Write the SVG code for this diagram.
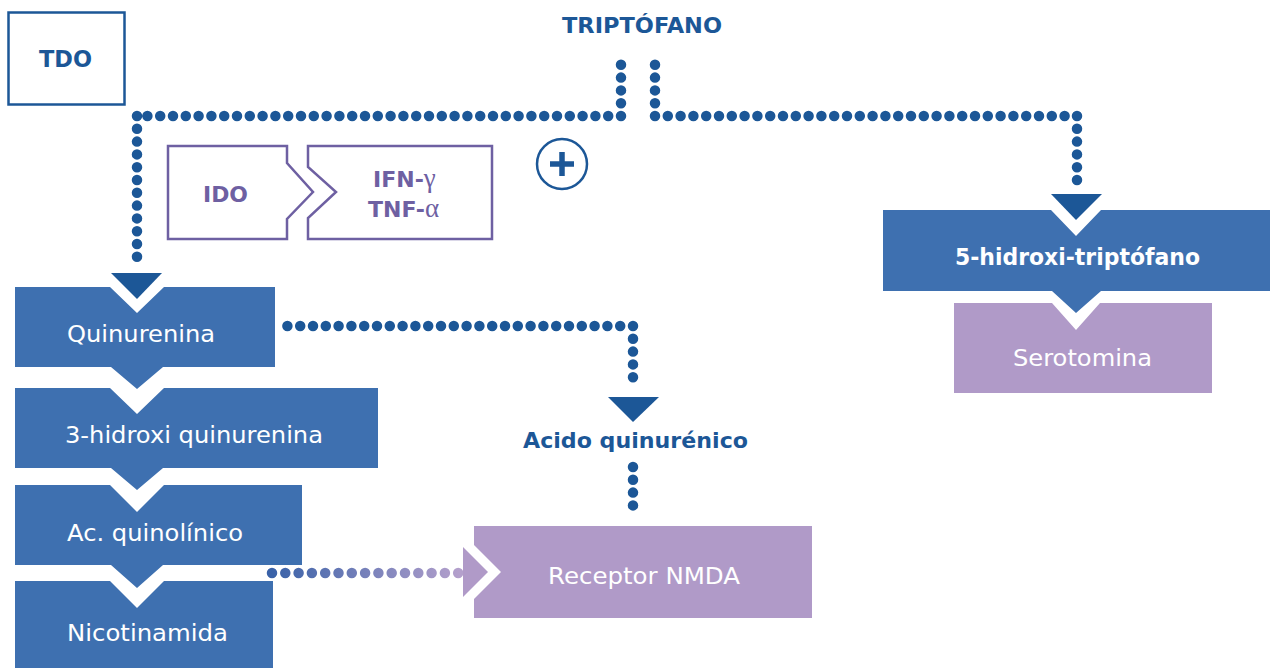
<svg xmlns="http://www.w3.org/2000/svg" width="1270" height="668" viewBox="0 0 1270 668">
  <style>
    .box { fill: #3e70b0; }
    .pbox { fill: #b09ac8; }
    .arrow { fill: #1c5797; }
    .dots { fill: none; stroke: #1c5797; stroke-width: 10.5; stroke-linecap: round; stroke-dasharray: 0 12.8; }
    .lbl { font-family: "DejaVu Sans", "Liberation Sans", sans-serif; font-size: 23px; fill: #ffffff; }
    .blbl { font-family: "DejaVu Sans", "Liberation Sans", sans-serif; font-size: 23px; font-weight: bold; fill: #ffffff; }
    .dlbl { font-family: "DejaVu Sans", "Liberation Sans", sans-serif; font-size: 22px; font-weight: bold; fill: #1c5797; }
    .plbl { font-family: "DejaVu Sans", "Liberation Sans", sans-serif; font-size: 22px; font-weight: bold; fill: #6e60a2; }
    .greek { font-family: "Liberation Serif", serif; font-weight: normal; font-size: 27px; }
    .pout { fill: #ffffff; stroke: #6e60a2; stroke-width: 2.5; stroke-linejoin: miter; }
  </style>
  <defs>
    <linearGradient id="gdots" gradientUnits="userSpaceOnUse" x1="272" y1="0" x2="460" y2="0">
      <stop offset="0" stop-color="#3a62a8"/>
      <stop offset="1" stop-color="#b4a0cc"/>
    </linearGradient>
  </defs>

  <g id="connectors">
    <path class="dots" d="M621 116 V53 M621 116 H137 M137 116 V266"/>
    <path class="dots" d="M655 116 V53 M655 116 H1077 M1077 116 V187"/>
    <path class="dots" d="M633 326 H285 M633 326 V386"/>
    <path class="dots" d="M633 467 V513"/>
    <path class="dots" style="stroke:url(#gdots); stroke-dasharray: 0 13.3" d="M272 573 H460"/>
    <polygon class="arrow" points="111,273 162,273 137,299"/>
    <polygon class="arrow" points="1051,194 1102,194 1076,220"/>
    <polygon class="arrow" points="608,397 659,397 633,422"/>
    <polygon points="463,547 488,572 463,597" fill="#b09ac8"/>
  </g>

  <g id="tdo">
    <rect x="8.5" y="12.5" width="116" height="92" fill="#ffffff" stroke="#1c5797" stroke-width="2.5"/>
    <text class="dlbl" x="39" y="67" textLength="53" lengthAdjust="spacingAndGlyphs" style="font-size:23px">TDO</text>
  </g>

  <g id="triptofano">
    <text class="dlbl" x="562" y="33" textLength="160" lengthAdjust="spacingAndGlyphs">TRIPTÓFANO</text>
  </g>

  <g id="plus">
    <circle cx="562" cy="164" r="25" fill="#ffffff" stroke="#1c5797" stroke-width="2.5"/>
    <path d="M550 164 H574 M562 152 V176" stroke="#1c5797" stroke-width="5.5" fill="none"/>
  </g>

  <g id="ido">
    <path class="pout" d="M168 146 H287 V163 L313 192 L287 219 V239 H168 Z"/>
    <text class="plbl" x="203" y="202" textLength="45" lengthAdjust="spacingAndGlyphs">IDO</text>
  </g>

  <g id="ifn-tnf">
    <path class="pout" d="M308 146 H492 V239 H308 V218 L336 192 L308 167 Z"/>
    <text class="plbl" x="373" y="187">IFN-<tspan class="greek">γ</tspan></text>
    <text class="plbl" x="368" y="217">TNF-<tspan class="greek">α</tspan></text>
  </g>

  <g id="quinurenina">
    <path class="box" d="M15 287 H110 L137 313 L164 287 H275 V367 H163 L137 389 L111 367 H15 Z"/>
    <text class="lbl" x="67" y="342" textLength="148" lengthAdjust="spacingAndGlyphs">Quinurenina</text>
  </g>

  <g id="hidroxi-quinurenina">
    <path class="box" d="M15 388 H110 L137 414 L164 388 H378 V468 H163 L137 490 L111 468 H15 Z"/>
    <text class="lbl" x="65" y="443" textLength="258" lengthAdjust="spacingAndGlyphs">3-hidroxi quinurenina</text>
  </g>

  <g id="ac-quinolinico">
    <path class="box" d="M15 485 H110 L137 512 L164 485 H302 V565 H163 L137 588 L111 565 H15 Z"/>
    <text class="lbl" x="67" y="541" textLength="176" lengthAdjust="spacingAndGlyphs">Ac. quinolínico</text>
  </g>

  <g id="nicotinamida">
    <path class="box" d="M15 581 H110 L137 608 L164 581 H273 V668 H15 Z"/>
    <text class="lbl" x="67" y="641" textLength="161" lengthAdjust="spacingAndGlyphs">Nicotinamida</text>
  </g>

  <g id="acido-quinurenico">
    <text class="dlbl" x="523" y="448" textLength="225" lengthAdjust="spacingAndGlyphs">Acido quinurénico</text>
  </g>

  <g id="receptor-nmda">
    <path class="pbox" d="M474 526 H812 V618 H474 V599 L501 572 L474 545 Z"/>
    <text class="lbl" x="548" y="584" textLength="192" lengthAdjust="spacingAndGlyphs">Receptor NMDA</text>
  </g>

  <g id="hidroxi-triptofano">
    <path class="box" d="M883 210 H1051 L1076 236 L1101 210 H1270 V291 H1101 L1076 313 L1052 291 H883 Z"/>
    <text class="blbl" x="955" y="265" textLength="245" lengthAdjust="spacingAndGlyphs">5-hidroxi-triptófano</text>
  </g>

  <g id="serotomina">
    <path class="pbox" d="M954 303 H1052 L1076 330 L1100 303 H1212 V393 H954 Z"/>
    <text class="lbl" x="1013" y="366" textLength="139" lengthAdjust="spacingAndGlyphs">Serotomina</text>
  </g>
</svg>
